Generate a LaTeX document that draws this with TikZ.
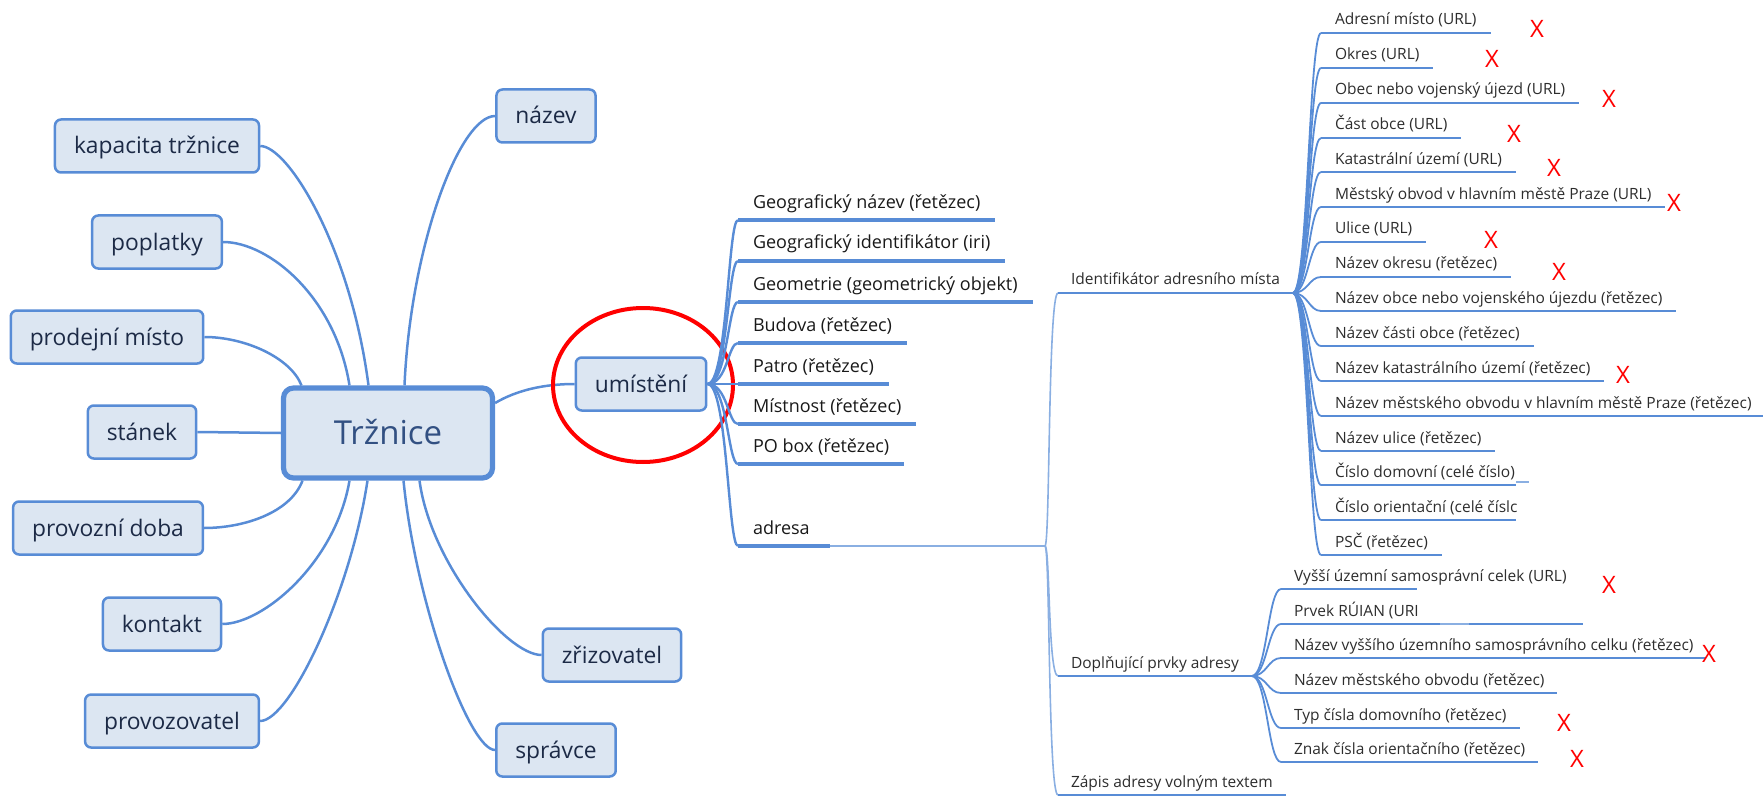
\documentclass[tikz,border=0pt]{standalone}
\usepackage{fontspec}
\setmainfont{Open Sans}
\definecolor{linkblue}{RGB}{88,140,214}
\definecolor{boxfill}{RGB}{220,230,242}
\definecolor{boxtext}{RGB}{28,42,70}
\definecolor{hubtext}{RGB}{50,80,130}
\definecolor{leaftext}{RGB}{25,25,25}
\definecolor{smalltext}{RGB}{45,45,45}

\begin{document}
\begin{tikzpicture}[x=0.5pt,y=0.5pt,
  topic/.style={draw=linkblue, fill=boxfill, line width=1.25pt, rounded corners=3pt, text=boxtext, font=\fontsize{11.4}{13}\selectfont, inner xsep=9.5pt, inner ysep=0pt, text height=9.5pt, text depth=1.5pt, minimum height=26.5pt},
  hub/.style={topic, line width=2.6pt, rounded corners=5pt, text=hubtext, font=\fontsize{16.5}{19}\selectfont, minimum width=104.5pt, minimum height=45pt, text height=11.5pt, text depth=0pt},
  link/.style={draw=linkblue, line width=1.25pt},
  twig/.style={draw=linkblue, line width=1.2pt},
  twigs/.style={draw=linkblue, line width=0.9pt},
  fine/.style={draw=linkblue!70, line width=0.8pt},
  uline/.style={draw=linkblue, line width=1.75pt},
  subline/.style={draw=linkblue, line width=1.3pt},
  leafm/.style={anchor=south west, text=leaftext, font=\fontsize{9}{11}\selectfont, inner xsep=7.5pt, inner ysep=0pt, outer sep=0pt, text depth=6pt},
  leafs/.style={anchor=south west, text=smalltext, font=\fontsize{7.75}{9}\selectfont, inner xsep=7pt, inner ysep=0pt, outer sep=0pt, text depth=4pt},
  leafa/.style={leafs, inner xsep=6.5pt},
  crossmark/.style={text=red, font=\fontsize{12}{14}\selectfont, inner sep=0pt},
  ring/.style={draw=red, line width=2pt}]
\useasboundingbox (0,0) rectangle (1763,-797);
\node[hub] (trz) at (388,-433) {Tržnice};
\node[topic] (naz) at (546,-116) {název};
\node[topic] (kap) at (157,-146) {kapacita tržnice};
\node[topic] (popl) at (157,-242) {poplatky};
\node[topic] (prod) at (107,-337) {prodejní místo};
\node[topic] (stan) at (142,-432) {stánek};
\node[topic] (doba) at (108,-528) {provozní doba};
\node[topic] (kont) at (162,-624) {kontakt};
\node[topic] (prov) at (172,-721) {provozovatel};
\node[topic] (zriz) at (612,-655) {zřizovatel};
\node[topic] (sprav) at (556,-750) {správce};
\node[topic] (umis) at (641,-384) {umístění};
\draw[link] (kap.east) .. controls +(28,0) and +(-18,138) .. ([xshift=-9.75pt]trz.north);
\draw[link] (popl.east) .. controls +(46,0) and +(-14,88) .. ([xshift=-19.25pt]trz.north);
\draw[link] (prod.east) .. controls +(40,0) and +(-11,28) .. ([xshift=-43.25pt]trz.north);
\draw[link] (naz.west) .. controls +(-36,0) and +(6,138) .. ([xshift=8.25pt]trz.north);
\draw[link] (stan.east) -- (trz.west);
\draw[link] ([yshift=15pt]trz.east) .. controls +(22,13) and +(-30,0) .. (umis.west);
\draw[link] (doba.east) .. controls +(40,0) and +(-12,-32) .. ([xshift=-42.75pt]trz.south);
\draw[link] (kont.east) .. controls +(41,0) and +(-14,-82) .. ([xshift=-19.25pt]trz.south);
\draw[link] (prov.east) .. controls +(30,0) and +(-17,-112) .. ([xshift=-10.25pt]trz.south);
\draw[link] (zriz.west) .. controls +(-35,0) and +(11,-82) .. ([xshift=15.75pt]trz.south);
\draw[link] (sprav.west) .. controls +(-26,0) and +(12,-122) .. ([xshift=7.75pt]trz.south);
\draw[ring] (643,-385) ellipse [x radius=45pt, y radius=38.5pt];
\node[leafm] (gnaz) at (738,-220) {Geografický název (řetězec)};
\node[leafm] (gid) at (738,-261) {Geografický identifikátor (iri)};
\node[leafm] (geom) at (738,-302) {Geometrie (geometrický objekt)};
\node[leafm] (bud) at (738,-343) {Budova (řetězec)};
\node[leafm] (patro) at (738,-384) {Patro (řetězec)};
\node[leafm] (mist) at (738,-424) {Místnost (řetězec)};
\node[leafm] (pobox) at (738,-464) {PO box (řetězec)};
\node[leafm] (adr) at (738,-546) {adresa};
\coordinate (adr-e) at (830,-546);
\coordinate (adr-j) at (1045,-546);
\draw[twig] (umis.east) .. controls +(20,0) and +(-10,0) .. (gnaz.south west) edge[uline] (gnaz.south east);
\draw[twig] (umis.east) .. controls +(20,0) and +(-10,0) .. (gid.south west) edge[uline] (gid.south east);
\draw[twig] (umis.east) .. controls +(20,0) and +(-10,0) .. (geom.south west) edge[uline] (geom.south east);
\draw[twig] (umis.east) .. controls +(20,0) and +(-10,0) .. (bud.south west) edge[uline] (bud.south east);
\draw[twig] (umis.east) -- (patro.south west) edge[uline] (patro.south east);
\draw[twig] (umis.east) .. controls +(20,0) and +(-10,0) .. (mist.south west) edge[uline] (mist.south east);
\draw[twig] (umis.east) .. controls +(20,0) and +(-10,0) .. (pobox.south west) edge[uline] (pobox.south east);
\draw[twig] (umis.east) .. controls +(20,0) and +(-10,0) .. (adr.south west) edge[uline] (adr-e);
\draw[fine] (adr-e) -- (adr-j);
\node[leafa] (idf) at (1058,-293) {Identifikátor adresního místa};
\node[leafa] (dopl) at (1058,-676) {Doplňující prvky adresy};
\node[leafa] (zapis) at (1058,-795) {Zápis adresy volným textem};
\draw[fine] (adr-j) .. controls +(5,0) and +(-10,0) .. (idf.south west) edge[subline] (idf.south east);
\draw[fine] (adr-j) .. controls +(5,0) and +(-10,0) .. (dopl.south west) edge[subline] (dopl.south east);
\draw[fine] (adr-j) .. controls +(5,0) and +(-10,0) .. (zapis.south west) edge[subline] (zapis.south east);
\node[leafs] (am) at (1321,-33) {Adresní místo (URL)};
\node[leafs] (okr) at (1321,-68) {Okres (URL)};
\node[leafs] (obec) at (1321,-103) {Obec nebo vojenský újezd (URL)};
\node[leafs] (cobc) at (1321,-138) {Část obce (URL)};
\node[leafs] (kat) at (1321,-172) {Katastrální území (URL)};
\node[leafs] (mob) at (1321,-207) {Městský obvod v hlavním městě Praze (URL)};
\node[leafs] (ulice) at (1321,-242) {Ulice (URL)};
\node[leafs] (nokr) at (1321,-277) {Název okresu (řetězec)};
\node[leafs] (nobc) at (1321,-311) {Název obce nebo vojenského újezdu (řetězec)};
\node[leafs] (ncast) at (1321,-346) {Název části obce (řetězec)};
\node[leafs] (nkat) at (1321,-381) {Název katastrálního území (řetězec)};
\node[leafs] (nmob) at (1321,-416) {Název městského obvodu v hlavním městě Praze (řetězec)};
\node[leafs] (nul) at (1321,-451) {Název ulice (řetězec)};
\node[leafs] (cdom) at (1321,-485) {Číslo domovní (celé číslo)};
\node[leafs] (cori) at (1321,-520) {Číslo orientační (celé číslc};
\node[leafs] (psc) at (1321,-555) {PSČ (řetězec)};
\coordinate (cdom-e) at (1516,-485);
\coordinate (cdom-x) at (1529,-482);
\coordinate (cori-e) at (1516,-520);
\draw[twigs] (idf.south east) .. controls +(15,0) and +(-12,0) .. (am.south west) edge[subline] (am.south east);
\draw[twigs] (idf.south east) .. controls +(15,0) and +(-12,0) .. (okr.south west) edge[subline] (okr.south east);
\draw[twigs] (idf.south east) .. controls +(15,0) and +(-12,0) .. (obec.south west) edge[subline] (obec.south east);
\draw[twigs] (idf.south east) .. controls +(15,0) and +(-12,0) .. (cobc.south west) edge[subline] (cobc.south east);
\draw[twigs] (idf.south east) .. controls +(15,0) and +(-12,0) .. (kat.south west) edge[subline] (kat.south east);
\draw[twigs] (idf.south east) .. controls +(15,0) and +(-12,0) .. (mob.south west) edge[subline] (mob.south east);
\draw[twigs] (idf.south east) .. controls +(15,0) and +(-12,0) .. (ulice.south west) edge[subline] (ulice.south east);
\draw[twigs] (idf.south east) .. controls +(15,0) and +(-12,0) .. (nokr.south west) edge[subline] (nokr.south east);
\draw[twigs] (idf.south east) .. controls +(15,0) and +(-12,0) .. (nobc.south west) edge[subline] (nobc.south east);
\draw[twigs] (idf.south east) .. controls +(15,0) and +(-12,0) .. (ncast.south west) edge[subline] (ncast.south east);
\draw[twigs] (idf.south east) .. controls +(15,0) and +(-12,0) .. (nkat.south west) edge[subline] (nkat.south east);
\draw[twigs] (idf.south east) .. controls +(15,0) and +(-12,0) .. (nmob.south west) edge[subline] (nmob.south east);
\draw[twigs] (idf.south east) .. controls +(15,0) and +(-12,0) .. (nul.south west) edge[subline] (nul.south east);
\draw[twigs] (idf.south east) .. controls +(15,0) and +(-12,0) .. (cdom.south west) edge[subline] (cdom-e);
\draw[fine] (cdom-e |- cdom-x) -- (cdom-x);
\draw[twigs] (idf.south east) .. controls +(15,0) and +(-12,0) .. (cori.south west) edge[subline] (cori-e);
\draw[twigs] (idf.south east) .. controls +(15,0) and +(-12,0) .. (psc.south west) edge[subline] (psc.south east);
\node[leafa] (vys) at (1281,-589) {Vyšší územní samosprávní celek (URL)};
\node[leafa] (prv) at (1281,-624) {Prvek RÚIAN (URI};
\node[leafa] (nvys) at (1281,-658) {Název vyššího územního samosprávního celku (řetězec)};
\node[leafa] (nmo) at (1281,-693) {Název městského obvodu (řetězec)};
\node[leafa] (typ) at (1281,-728) {Typ čísla domovního (řetězec)};
\node[leafa] (znak) at (1281,-762) {Znak čísla orientačního (řetězec)};
\coordinate (vys-e) at (1417,-589);
\coordinate (prv-a) at (1440,-624);
\coordinate (prv-b) at (1469,-624);
\coordinate (prv-e) at (1583,-624);
\draw[twigs] (dopl.south east) .. controls +(15,0) and +(-13,0) .. (vys.south west) edge[subline] (vys-e);
\draw[twigs] (dopl.south east) .. controls +(15,0) and +(-13,0) .. (prv.south west) edge[subline] (prv-a);
\draw[fine] (prv-a) -- (prv-b);
\draw[subline] (prv-b) -- (prv-e);
\draw[twigs] (dopl.south east) .. controls +(15,0) and +(-13,0) .. (nvys.south west) edge[subline] (nvys.south east);
\draw[twigs] (dopl.south east) .. controls +(15,0) and +(-13,0) .. (nmo.south west) edge[subline] (nmo.south east);
\draw[twigs] (dopl.south east) .. controls +(15,0) and +(-13,0) .. (typ.south west) edge[subline] (typ.south east);
\draw[twigs] (dopl.south east) .. controls +(15,0) and +(-13,0) .. (znak.south west) edge[subline] (znak.south east);
\node[crossmark] (x1) at (1537,-29) {X};
\node[crossmark] (x2) at (1492,-59) {X};
\node[crossmark] (x3) at (1609,-99) {X};
\node[crossmark] (x4) at (1514,-134) {X};
\node[crossmark] (x5) at (1554,-168) {X};
\node[crossmark] (x6) at (1674,-203) {X};
\node[crossmark] (x7) at (1491,-240) {X};
\node[crossmark] (x8) at (1559,-272) {X};
\node[crossmark] (x9) at (1623,-375) {X};
\node[crossmark] (x10) at (1609,-585) {X};
\node[crossmark] (x11) at (1709,-654) {X};
\node[crossmark] (x12) at (1564,-723) {X};
\node[crossmark] (x13) at (1577,-759) {X};
\end{tikzpicture}
\end{document}
